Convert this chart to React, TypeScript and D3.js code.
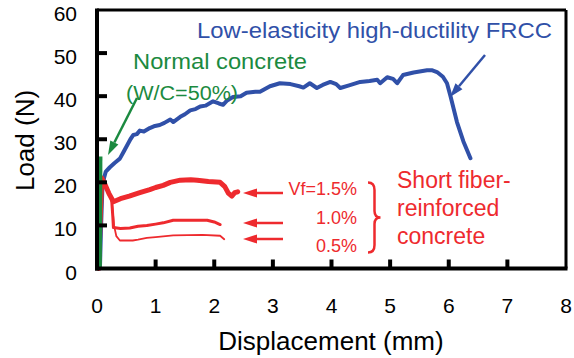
import React from "react";
import * as d3 from "d3";

type Pt = [number, number];

const xTicks = [0, 1, 2, 3, 4, 5, 6, 7, 8];
const yTicks = [0, 10, 20, 30, 40, 50, 60];

const frcc: Pt[] = [
  [0.05, 0], [0.07, 10], [0.09, 18], [0.12, 21], [0.15, 22.5], [0.22, 23.5], [0.3, 24.5],
  [0.39, 25.5], [0.45, 27], [0.51, 28.5], [0.57, 30], [0.62, 31], [0.68, 31.2], [0.73, 32],
  [0.8, 31.8], [0.9, 32.6], [0.97, 33], [1.07, 33.3], [1.15, 33.8], [1.25, 34.6], [1.3, 34],
  [1.42, 35.2], [1.5, 35.8], [1.59, 36.7], [1.68, 37], [1.76, 37.6], [1.85, 37.8], [1.98, 38.8],
  [2.08, 38.3], [2.15, 38], [2.22, 39], [2.32, 39.8], [2.45, 40], [2.55, 40.8], [2.7, 41],
  [2.78, 41], [2.95, 42.3], [3.12, 43], [3.3, 42.8], [3.45, 42.3], [3.52, 42], [3.63, 43],
  [3.75, 41.9], [3.85, 42.6], [3.98, 43.3], [4.08, 42.8], [4.15, 41.9], [4.3, 42.5], [4.49, 43.3],
  [4.65, 43.5], [4.78, 43.8], [4.83, 43], [4.95, 44.4], [5.05, 44], [5.12, 43], [5.22, 44.9],
  [5.4, 45.5], [5.63, 46], [5.72, 46], [5.8, 45.6], [5.9, 44.5], [5.97, 43], [6.03, 40],
  [6.14, 34], [6.25, 29.5], [6.37, 25.6],
];

const normal: Pt[] = [[0.04, 0], [0.05, 26]];

const vf15: Pt[] = [
  [0.03, 0], [0.05, 10], [0.08, 21], [0.12, 20], [0.2, 17.5], [0.28, 15.5], [0.4, 16.2],
  [0.55, 16.8], [0.73, 17.6], [0.9, 18.3], [1.0, 18.8], [1.13, 19.3], [1.25, 20], [1.42, 20.5],
  [1.6, 20.6], [1.71, 20.5], [1.9, 20.2], [2.1, 20], [2.18, 19], [2.24, 17.5], [2.3, 16.8],
  [2.35, 17.6], [2.4, 17.8],
];

const vf10: Pt[] = [
  [0.03, 0], [0.05, 10], [0.08, 21], [0.15, 19], [0.25, 16], [0.27, 12], [0.28, 9.5], [0.4, 9.3],
  [0.56, 9.4], [0.7, 9.8], [0.85, 10], [1.0, 10.3], [1.13, 10.6], [1.3, 11.2], [1.5, 11.2],
  [1.88, 11.2], [2.0, 10.8], [2.1, 10.2],
];

const vf05: Pt[] = [
  [0.03, 0], [0.05, 10], [0.08, 21], [0.15, 19], [0.25, 16], [0.29, 10], [0.33, 7.5], [0.39, 6.5],
  [0.61, 6.5], [0.7, 6.7], [0.85, 7.1], [1.0, 7.3], [1.3, 7.7], [1.8, 7.8], [2.1, 7.6], [2.17, 6.8],
];

const vfLabels = ["Vf=1.5%", "1.0%", "0.5%"];
const sfrcLabel = ["Short fiber-", "reinforced", "concrete"];

const BLUE = "#3050A8";
const GREEN = "#1B8A40";
const RED = "#EE2A2E";
const FONT = "'Liberation Sans', Arial, sans-serif";

export default function App() {
  const W = 574, H = 358;
  const left = 97, right = 566, top = 10, bottom = 268.5;
  const x = d3.scaleLinear().domain([0, 8]).range([left, right]);
  const y = d3.scaleLinear().domain([0, 60]).range([bottom, top]);
  const line = d3.line<Pt>().x((d) => x(d[0])).y((d) => y(d[1])).curve(d3.curveLinear);

  const arrow = (x1: number, y1: number, x2: number, y2: number, color: string, w: number) => {
    const ang = Math.atan2(y2 - y1, x2 - x1);
    const L = 14, hw = 4.5;
    const bx = x2 - L * Math.cos(ang), by = y2 - L * Math.sin(ang);
    const px = -Math.sin(ang) * hw, py = Math.cos(ang) * hw;
    return (
      <g>
        <line x1={x1} y1={y1} x2={bx} y2={by} stroke={color} strokeWidth={w} />
        <path d={`M${x2},${y2}L${bx + px},${by + py}L${bx - px},${by - py}Z`} fill={color} />
      </g>
    );
  };

  return (
    <svg width={W} height={H} style={{ position: "absolute", left: 0, top: 0, background: "#fff" }} fontFamily={FONT}>
      <rect x={0} y={0} width={W} height={H} fill="#fff" />
      {/* series */}
      <path d={line(frcc) || ""} fill="none" stroke={BLUE} strokeWidth={4} strokeLinejoin="round" strokeLinecap="round" />
      <path d={line(vf05) || ""} fill="none" stroke={RED} strokeWidth={1.8} strokeLinejoin="round" strokeLinecap="round" />
      <path d={line(vf10) || ""} fill="none" stroke={RED} strokeWidth={3} strokeLinejoin="round" strokeLinecap="round" />
      <path d={line(vf15) || ""} fill="none" stroke={RED} strokeWidth={5} strokeLinejoin="round" strokeLinecap="round" />
      <path d={line(normal) || ""} fill="none" stroke={GREEN} strokeWidth={5} />

      {/* frame */}
      <line x1={left} y1={top} x2={right} y2={top} stroke="#000" strokeWidth={3} />
      <line x1={right} y1={top} x2={right} y2={bottom} stroke="#000" strokeWidth={3} />
      <line x1={left} y1={top - 1.5} x2={left} y2={bottom + 2} stroke="#000" strokeWidth={4} />
      <line x1={left - 2} y1={bottom} x2={right + 1.5} y2={bottom} stroke="#000" strokeWidth={4} />

      {/* ticks */}
      {yTicks.slice(1, -1).map((t) => (
        <line key={"yt" + t} x1={left} x2={left + 10} y1={y(t)} y2={y(t)} stroke="#000" strokeWidth={4} />
      ))}
      {xTicks.slice(1, -1).map((t) => (
        <line key={"xt" + t} x1={x(t)} x2={x(t)} y1={bottom} y2={bottom - 9} stroke="#000" strokeWidth={4} />
      ))}
      {yTicks.map((t) => (
        <text key={"yl" + t} x={77} y={y(t) + 11} textAnchor="end" fontSize={21} fill="#000">{t}</text>
      ))}
      {xTicks.map((t) => (
        <text key={"xl" + t} x={x(t)} y={313} textAnchor="middle" fontSize={21} fill="#000">{t}</text>
      ))}

      {/* axis titles */}
      <text x={331} y={350} textAnchor="middle" fontSize={26} fill="#000">Displacement (mm)</text>
      <text transform="translate(34,140.5) rotate(-90)" textAnchor="middle" fontSize={26} fill="#000">Load (N)</text>

      {/* annotations */}
      <text x={197} y={37.5} fontSize={22.5} fill={BLUE} textLength={355} lengthAdjust="spacingAndGlyphs">Low-elasticity high-ductility FRCC</text>
      {arrow(485, 55, 450, 97, BLUE, 2.5)}

      <text x={133} y={69} fontSize={22.5} fill={GREEN} textLength={174} lengthAdjust="spacingAndGlyphs">Normal concrete</text>
      <text x={126} y={100} fontSize={20} fill={GREEN} textLength={112} lengthAdjust="spacingAndGlyphs">(W/C=50%)</text>
      {arrow(137, 98, 108, 155, GREEN, 2.5)}

      {sfrcLabel.map((s, i) => (
        <text key={s} x={397} y={188 + i * 28} fontSize={23} fill={RED}>{s}</text>
      ))}
      {vfLabels.map((s, i) => (
        <text key={s} x={357} y={[195, 223.5, 252][i]} textAnchor="end" fontSize={18} fill={RED}>{s}</text>
      ))}
      {[193, 223, 239].map((yy) => (
        <g key={"ra" + yy}>{arrow(283, yy, 243, yy, RED, 2.5)}</g>
      ))}
      <path
        d="M368,182.5 Q374.5,182.5 374.5,190 L374.5,211 Q374.5,217.5 380.5,217.5 Q374.5,217.5 374.5,224 L374.5,245 Q374.5,252.5 368,252.5"
        fill="none" stroke={RED} strokeWidth={2.5}
      />
    </svg>
  );
}
